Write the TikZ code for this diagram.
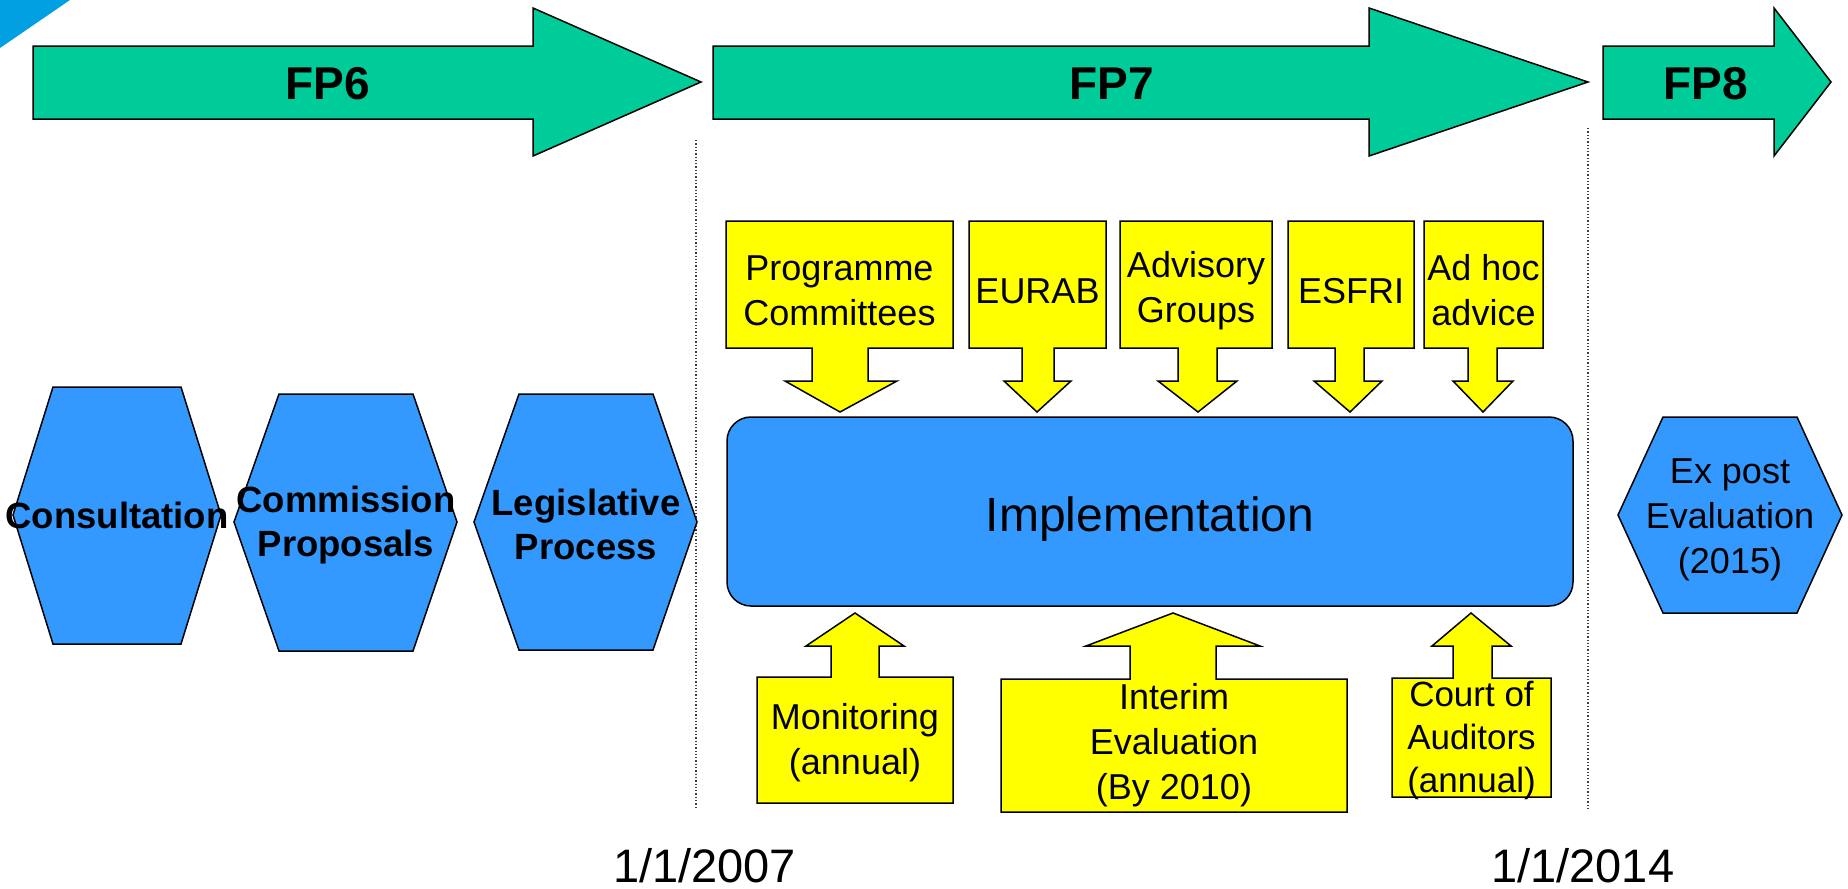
\documentclass[tikz,border=0pt]{standalone}
\usepackage{fontspec}
\setmainfont{Liberation Sans}
\definecolor{fpgreen}{RGB}{0,204,153}
\definecolor{hexblue}{RGB}{51,153,255}
\definecolor{callyellow}{RGB}{255,255,0}
\definecolor{cornerblue}{RGB}{0,160,227}
\newcommand\dncall[8]{% x1 x2 s1 s2 w1 w2 tip name
  \draw[callout] (#1,221) -- (#2,221) -- (#2,348) -- (#4,348) -- (#4,381) -- (#6,381) -- (#7,412) -- (#5,381) -- (#3,381) -- (#3,348) -- (#1,348) -- cycle;
  \coordinate (#8) at ({(#1+#2)/2},290.5);}
\newcommand\upcall[9]{% x1 x2 top bottom s1 s2 w1 w2 tip
  \draw[callout] (#1,#3) -- (#5,#3) -- (#5,646) -- (#7,646) -- (#9,613) -- (#8,646) -- (#6,646) -- (#6,#3) -- (#2,#3) -- (#2,#4) -- (#1,#4) -- cycle;}
\begin{document}
\begin{tikzpicture}[x=1pt,y=-1pt,
  fparrow/.style={fill=fpgreen,draw=black,line width=1.5pt,line join=miter},
  hexshape/.style={fill=hexblue,draw=black,line width=1.5pt},
  callout/.style={fill=callyellow,draw=black,line width=1.5pt},
  fplabel/.style={font=\bfseries\fontsize{46}{55}\selectfont,inner sep=0pt},
  hexlabel/.style={font=\bfseries\fontsize{36.5}{44}\selectfont,align=center,inner sep=0pt},
  calltext/.style={font=\fontsize{36}{45}\selectfont,align=center,inner sep=0pt},
  datelabel/.style={font=\fontsize{47}{56}\selectfont,inner sep=0pt,anchor=base west},
  divider/.style={dotted,line width=1.3pt,black!75},
  implbox/.style={fill=hexblue,draw=black,line width=1.5pt,rounded corners=24pt}
]
\useasboundingbox (0,0) rectangle (1848,889);
% corner decoration
\fill[cornerblue] (0,0) -- (70,0) -- (0,48) -- cycle;
% timeline arrows
\draw[fparrow] (33,46) -- (533,46) -- (533,8) -- (701,82) -- (533,156) -- (533,119) -- (33,119) -- cycle;
\draw[fparrow] (713,46) -- (1369,46) -- (1369,8) -- (1588,82) -- (1369,156) -- (1369,119) -- (713,119) -- cycle;
\draw[fparrow] (1603,46) -- (1774,46) -- (1774,8) -- (1831,82) -- (1774,156) -- (1774,119) -- (1603,119) -- cycle;
\node[fplabel] (fp6) at (328,84) {FP6};
\node[fplabel] (fp7) at (1112,84) {FP7};
\node[fplabel] (fp8) at (1706,84) {FP8};
% dividers
\coordinate (d1a) at (696,140); \coordinate (d1b) at (696,808);
\coordinate (d2a) at (1588,128); \coordinate (d2b) at (1588,808);
\draw[divider] (d1a) -- (d1b);
\draw[divider] (d2a) -- (d2b);
% hexagons
\draw[hexshape] (53,387) -- (181,387) -- (221,515) -- (181,644) -- (53,644) -- (13,515) -- cycle;
\draw[hexshape] (279,394) -- (413,394) -- (457,522) -- (413,651) -- (279,651) -- (234,522) -- cycle;
\draw[hexshape] (519,394) -- (653,394) -- (697,522) -- (653,650) -- (519,650) -- (474,522) -- cycle;
\draw[hexshape] (1663,417) -- (1797,417) -- (1842,515) -- (1797,613) -- (1663,613) -- (1618,515) -- cycle;
\node[hexlabel] (consult) at (117,515) {Consultation};
\node[hexlabel] (commis) at (346,525) {Commission\\Proposals};
\node[hexlabel] (legis) at (586,524) {Legislative\\Process};
\node[calltext] (expost) at (1730,520) {Ex post\\Evaluation\\(2015)};
% implementation
\draw[implbox] (727,417) rectangle (1573,606);
\node[font=\fontsize{48}{56}\selectfont,inner sep=0pt] (impl) at (1150,519) {Implementation};
% top callouts
\dncall{726}{953}{812}{868}{785}{897}{840}{cpc}
\dncall{969}{1106}{1022}{1054}{1004}{1071}{1037}{ceu}
\dncall{1120}{1272}{1178}{1217}{1158}{1237}{1198}{cadv}
\dncall{1288}{1414}{1335}{1364}{1314}{1382}{1350}{cesf}
\dncall{1424}{1543}{1468}{1497}{1453}{1513}{1483}{cadh}
\node[calltext] (pc) at (cpc) {Programme\\Committees};
\node[calltext] (eurab) at (1037.5,291) {EURAB};
\node[calltext] (adv) at (cadv) {Advisory\\Groups};
\node[calltext] (esfri) at (1351,291) {ESFRI};
\node[calltext] (adhoc) at (cadh) {Ad hoc\\advice};
% bottom callouts
\upcall{757}{953}{677}{803}{831}{879}{806}{904}{855}
\upcall{1001}{1347}{679}{812}{1130}{1216}{1086}{1260}{1173}
\upcall{1392}{1551}{678}{797}{1453}{1492}{1432}{1511}{1471}
\node[calltext] (mon) at (855,743) {Monitoring\\(annual)};
\node[calltext] (interim) at (1174,745) {Interim\\Evaluation\\(By 2010)};
\node[calltext,font=\fontsize{35}{43}\selectfont] (court) at (1471.5,740) {Court of\\Auditors\\(annual)};
% dates
\node[datelabel] (date1) at (613,882) {1/1/2007};
\node[datelabel] (date2) at (1491,882) {1/1/2014};
\end{tikzpicture}
\end{document}
